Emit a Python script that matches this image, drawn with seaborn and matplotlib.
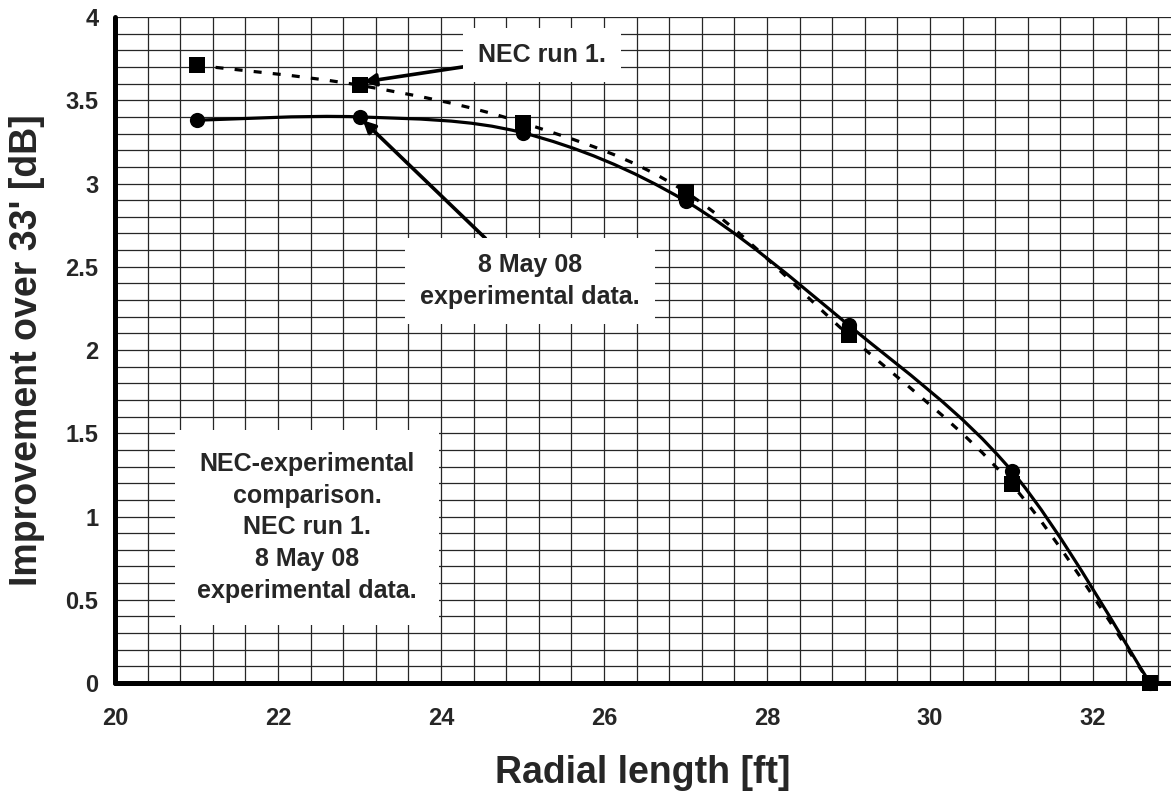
import numpy as np
import seaborn as sns
from matplotlib import pyplot as plt
from matplotlib.path import Path
from matplotlib.patches import PathPatch
from matplotlib.ticker import MultipleLocator
import pandas as pd

# data
radial_ft = [21, 23, 25, 27, 29, 31, 32.7]
nec_run1 = [3.71, 3.59, 3.365, 2.95, 2.09, 1.195, 0.0]
experimental = [3.38, 3.40, 3.305, 2.895, 2.15, 1.275, 0.0]

x_ticks = [20, 22, 24, 26, 28, 30, 32]
y_ticks = [0, 0.5, 1, 1.5, 2, 2.5, 3, 3.5, 4]
y_tick_labels = ["0", "0.5", "1", "1.5", "2", "2.5", "3", "3.5", "4"]

sns.set_style("white")
plt.rcParams['font.family'] = ['Liberation Sans', 'DejaVu Sans']
plt.rcParams['font.weight'] = 'bold'


def smooth_path(xs, ys):
    # Excel style smoothed line: cubic bezier segments through the points
    pts = np.column_stack([xs, ys])
    n = len(pts)
    verts = [pts[0]]
    codes = [Path.MOVETO]
    for i in range(n - 1):
        p0 = pts[i - 1] if i > 0 else pts[i]
        p1 = pts[i]
        p2 = pts[i + 1]
        p3 = pts[i + 2] if i + 2 < n else pts[i + 1]
        c1 = p1 + (p2 - p0) / 6.0
        c2 = p2 - (p3 - p1) / 6.0
        verts += [c1, c2, p2]
        codes += [Path.CURVE4] * 3
    return Path(verts, codes)


df = pd.DataFrame({"x": radial_ft, "nec": nec_run1, "exp": experimental})

fig = plt.figure(figsize=(11.71, 7.94), dpi=100)
ax = fig.add_axes([115 / 1171, 111 / 794, 1056 / 1171, 666 / 794])

ax.add_patch(PathPatch(smooth_path(df.x, df.nec), fill=False, color="black",
                       lw=2.3, linestyle=(0, (2.5, 3.5)), zorder=4))
ax.add_patch(PathPatch(smooth_path(df.x, df.exp), fill=False, color="black",
                       lw=2.3, zorder=4))

sns.scatterplot(data=df, x="x", y="nec", marker="s", s=130, color="black",
                edgecolor="black", linewidth=0, ax=ax, zorder=5, clip_on=False)
sns.scatterplot(data=df, x="x", y="exp", marker="o", s=120, color="black",
                edgecolor="black", linewidth=0, ax=ax, zorder=5, clip_on=False)

ax.set_xlim(20, 20 + 1056 / 81.5)
ax.set_ylim(0, 4)
ax.set_xticks(x_ticks)
ax.set_xticklabels([str(t) for t in x_ticks], fontsize=17, fontweight="bold")
ax.set_yticks(y_ticks)
ax.set_yticklabels(y_tick_labels, fontsize=17, fontweight="bold")
ax.xaxis.set_minor_locator(MultipleLocator(0.4))
ax.yaxis.set_minor_locator(MultipleLocator(0.1))
ax.grid(which="both", color="#262626", lw=0.9)
ax.set_axisbelow(True)

for side in ["top", "right"]:
    ax.spines[side].set_visible(False)
for side in ["left", "bottom"]:
    ax.spines[side].set_linewidth(3.6)
    ax.spines[side].set_color("black")
    ax.spines[side].set_capstyle("round")

ax.tick_params(which="major", direction="inout", length=12, width=2.6,
               color="black")
ax.tick_params(axis="y", which="major", pad=6)
ax.tick_params(axis="x", which="major", pad=11)
ax.tick_params(which="minor", length=0)
for tl in ax.xaxis.get_ticklines() + ax.yaxis.get_ticklines():
    tl.set_solid_capstyle("round")

ax.set_xlabel("Radial length [ft]", fontsize=27, fontweight="bold")
ax.set_ylabel("Improvement over 33' [dB]", fontsize=27, fontweight="bold")
ax.xaxis.set_label_coords(0.5, -0.108)
ax.yaxis.set_label_coords(-0.066, 0.5)

box = dict(boxstyle="square,pad=0.6", fc="white", ec="none")
arrow = dict(arrowstyle="-|>", lw=2.6, color="black", mutation_scale=18,
             shrinkA=0, shrinkB=0)

ax.annotate("NEC run 1.", xy=(23.05, 3.61), xytext=(25.24, 3.772),
            ha="center", va="center", fontsize=18, fontweight="bold",
            bbox=box, arrowprops=arrow, zorder=3)
ax.annotate("8 May 08\nexperimental data.", xy=(23.04, 3.38),
            xytext=(25.09, 2.414), ha="center", va="center", fontsize=18,
            fontweight="bold", linespacing=1.4, bbox=box, arrowprops=arrow,
            zorder=3)
ax.text(22.356, 0.934,
        "NEC-experimental\ncomparison.\nNEC run 1.\n8 May 08\nexperimental data.",
        ha="center", va="center", fontsize=18, fontweight="bold",
        linespacing=1.4, bbox=dict(boxstyle="square,pad=0.9", fc="white",
                                   ec="none"), zorder=3)

plt.savefig("out.png", dpi=100)
